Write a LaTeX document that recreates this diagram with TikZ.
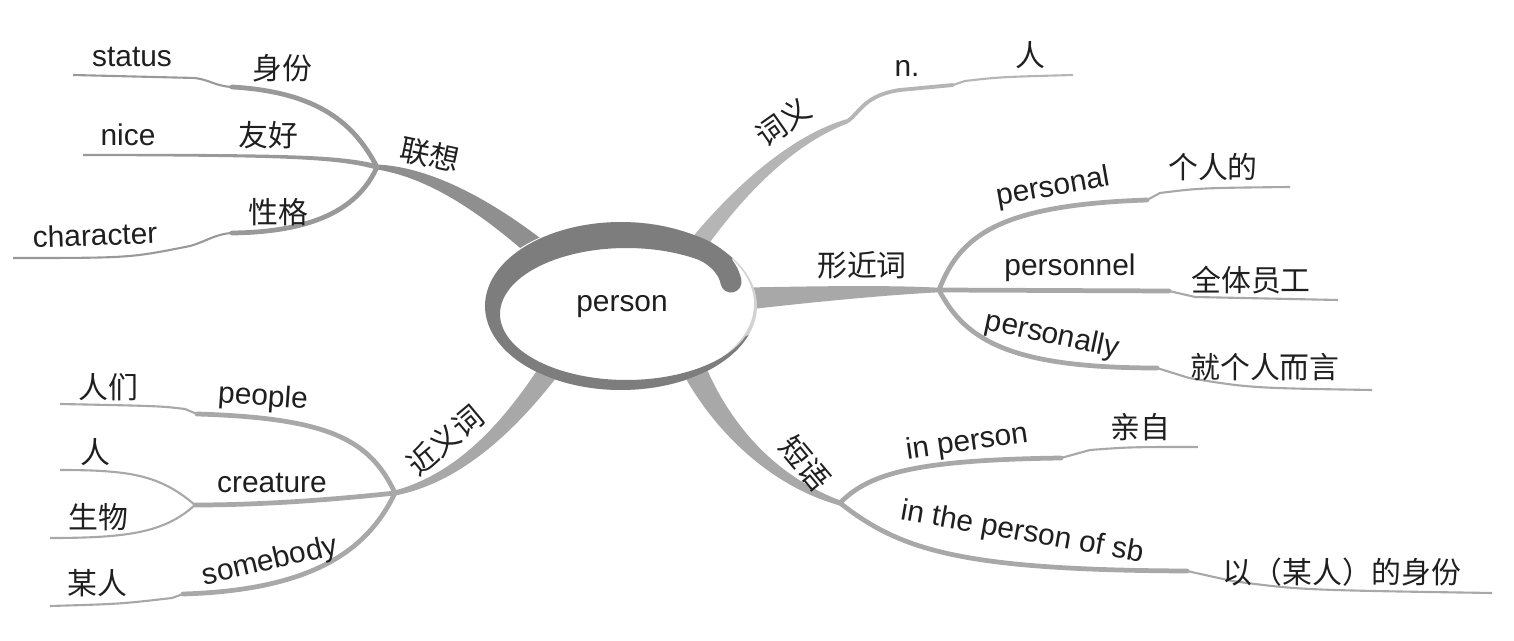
\documentclass[tikz,border=0pt]{standalone}
\usepackage{fontspec}
\setmainfont{Liberation Sans}
\newfontfamily\cjk{Noto Sans CJK SC}
\usetikzlibrary{calc}

\definecolor{ringgray}{gray}{0.49}
\definecolor{assocgray}{gray}{0.56}
\definecolor{leafdark}{gray}{0.6}
\definecolor{branchgray}{gray}{0.66}
\definecolor{paleline}{gray}{0.71}
\definecolor{inkgray}{gray}{0.12}

% filled tapering branch: style, four bezier points, half widths (pt)
\newcommand\taper[7]{%
  \pgfmathsetmacro\tpA{#6}%
  \pgfmathsetmacro\tpB{(2*#6+#7)/3}%
  \pgfmathsetmacro\tpC{(#6+2*#7)/3}%
  \pgfmathsetmacro\tpD{#7}%
  \fill[#1] ($(#2)!\tpA pt!90:(#3)$)
    .. controls ($(#3)!\tpB pt!-90:(#2)$) and ($(#4)!\tpC pt!90:(#5)$)
    .. ($(#5)!\tpD pt!-90:(#4)$)
    -- ($(#5)!\tpD pt!90:(#4)$)
    .. controls ($(#4)!\tpC pt!-90:(#5)$) and ($(#3)!\tpB pt!90:(#2)$)
    .. ($(#2)!\tpA pt!-90:(#3)$) -- cycle;}

\begin{document}
\begin{tikzpicture}[x=0.02cm, y=-0.02cm,
  en/.style={font=\fontsize{17}{20}\selectfont, text=inkgray, inner sep=0pt},
  zh/.style={font=\cjk\fontsize{17}{20}\selectfont, text=inkgray, inner sep=0pt},
  stem/.style={line width=2.7pt, line cap=round},
  twig/.style={line width=1.2pt}
]
\useasboundingbox (0,0) rectangle (1514,641);

% hubs
\coordinate (assoc) at (377,167);
\coordinate (syn) at (395,493);
\coordinate (form) at (939,290);
\coordinate (phr) at (840,503);
\coordinate (mean) at (848,121);
\coordinate (sub) at (195,505);

% main branches
\taper{assocgray}{548,258}{480,200}{425,172}{assoc}{6.2}{1.4}
\taper{branchgray}{548,372}{510,425}{460,478}{syn}{5.7}{1.4}
\taper{branchgray}{692,365}{720,425}{770,480}{phr}{6.8}{1.4}
\taper{paleline}{695,248}{735,195}{790,140}{mean}{5}{1.2}
\taper{branchgray}{740,299}{800,295}{880,290}{form}{6.5}{1.3}

% 联想
\draw[stem, leafdark] (assoc) .. controls (355,125) and (320,92) .. (232,87);
\draw[twig, leafdark] (232,87) .. controls (215,86) and (210,80) .. (195,78) -- (73,75);
\taper{leafdark}{assoc}{340,157}{290,155}{83,155}{1.5}{0.6}
\draw[stem, leafdark] (assoc) .. controls (360,205) and (320,232) .. (232,233);
\draw[twig, leafdark] (232,233) .. controls (215,234) and (205,242) .. (190,246)
  .. controls (130,258) .. (13,258);

% 近义词
\draw[stem, branchgray] (syn) .. controls (370,440) and (330,418) .. (197,414);
\draw[twig, branchgray] (197,414) -- (185,409) .. controls (160,406) .. (60,404);
\draw[stem, branchgray] (syn) .. controls (330,500) and (260,505) .. (sub);
\draw[twig, branchgray] (sub) .. controls (160,475) and (130,470) .. (60,470);
\draw[twig, branchgray] (sub) .. controls (165,532) and (130,538) .. (50,538);
\draw[stem, branchgray] (syn) .. controls (370,545) and (320,590) .. (183,594);
\draw[twig, branchgray] (183,594) -- (172,598) .. controls (120,604) .. (50,606);

% 词义
\draw[stem, paleline, line width=2.2pt] (mean) .. controls (860,112) and (865,95) .. (900,90) -- (953,85);
\draw[twig, paleline] (953,85) -- (965,81) .. controls (1000,77) .. (1073,75);

% 形近词
\draw[stem, branchgray] (form) .. controls (960,235) and (1000,205) .. (1147,200);
\draw[twig, branchgray] (1147,200) -- (1160,193) .. controls (1200,188) .. (1290,187);
\draw[stem, branchgray] (form) -- (1169,291);
\draw[twig, branchgray] (1169,291) -- (1195,297) -- (1338,300);
\draw[stem, branchgray] (form) .. controls (965,340) and (1010,368) .. (1157,368);
\draw[twig, branchgray] (1157,368) -- (1189,378) .. controls (1250,388) .. (1372,390);

% 短语
\draw[stem, branchgray] (phr) .. controls (870,472) and (920,460) .. (1061,458);
\draw[twig, branchgray] (1061,458) -- (1090,450) .. controls (1130,447) .. (1198,447);
\draw[stem, branchgray] (phr) .. controls (900,550) and (960,570) .. (1187,571);
\draw[twig, branchgray] (1187,571) -- (1232,581) .. controls (1300,590) .. (1492,593);

% centre
\fill[gray!35] plot[domain=0:360, samples=121] ({621+136*cos(\x)},{306+84*sin(\x)}) -- cycle;
\fill[white] plot[domain=0:360, samples=121] ({619+135*cos(\x)},{304+82*sin(\x)}) -- cycle;
\fill[ringgray] plot[domain=20:325, samples=100] ({621+136*cos(\x)},{306+84*sin(\x)})
  -- plot[domain=20:325, samples=100] ({626.5+126.5*cos(345-\x)},{314+66*sin(345-\x)}) -- cycle;
\draw[ringgray, line width=12pt, line cap=round] (670,240) .. controls (712,247) and (728,266) .. (731,282);
\node[en] (person) at (622,307) {person};

% labels
\node[en] (l-status) at (132,57) {status};
\node[zh] (l-shenfen) at (282,68) {身份};
\node[en] (l-nice) at (128,135) {nice};
\node[zh] (l-youhao) at (268,135) {友好};
\node[en, rotate=2] (l-character) at (95,235) {character};
\node[zh] (l-xingge) at (278,212) {性格};
\node[zh, rotate=-12] (l-lianxiang) at (430,155) {联想};

\node[zh] (l-renmen) at (108,387) {人们};
\node[en, rotate=-4] (l-people) at (263,398) {people};
\node[zh] (l-ren) at (95,452) {人};
\node[en] (l-creature) at (272,483) {creature};
\node[zh] (l-shengwu) at (98,517) {生物};
\node[en, rotate=13] (l-somebody) at (270,562) {somebody};
\node[zh] (l-mouren) at (97,583) {某人};
\node[zh, rotate=40] (l-jinyici) at (445,440) {近义词};

\node[zh, rotate=35] (l-ciyi) at (783,122) {词义};
\node[en] (l-n) at (907,68) {n.};
\node[zh] (l-ren2) at (1030,55) {人};
\node[zh] (l-xingjinci) at (862,265) {形近词};
\node[en, rotate=10] (l-personal) at (1053,188) {personal};
\node[zh] (l-gerende) at (1213,167) {个人的};
\node[en] (l-personnel) at (1070,268) {personnel};
\node[zh] (l-quanti) at (1251,280) {全体员工};
\node[en, rotate=-12] (l-personally) at (1052,336) {personally};
\node[zh] (l-jiugeren) at (1265,367) {就个人而言};
\node[zh, rotate=-50] (l-duanyu) at (805,463) {短语};
\node[en, rotate=8] (l-inperson) at (967,443) {in person};
\node[zh] (l-qinzi) at (1140,427) {亲自};
\node[en, rotate=-10] (l-inthe) at (1022,533) {in the person of sb};
\node[zh] (l-yimouren) at (1342,572) {以（某人）的身份};
\end{tikzpicture}
\end{document}
